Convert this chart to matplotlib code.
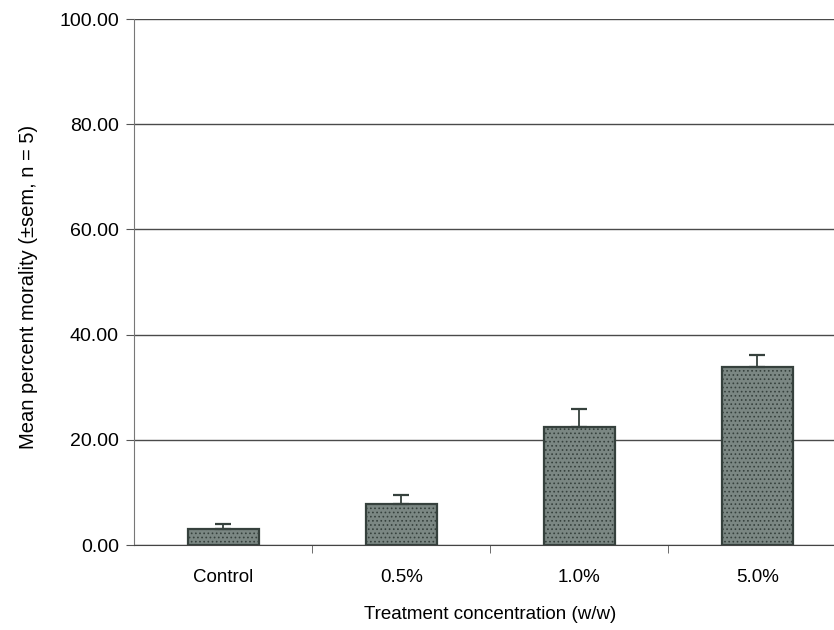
import matplotlib.pyplot as plt
from matplotlib.ticker import FixedLocator, FormatStrFormatter

categories = ["Control", "0.5%", "1.0%", "5.0%"]
mean_mortality = [3.1, 7.8, 22.5, 33.8]
sem_upper = [0.8, 1.7, 3.4, 2.4]

plt.rcParams["font.family"] = ["Liberation Sans", "DejaVu Sans"]
plt.rcParams["hatch.color"] = "#46524d"
plt.rcParams["hatch.linewidth"] = 0.7

fig = plt.figure(figsize=(8.34, 6.3), dpi=100)
ax = fig.add_axes([0.161, 85 / 630, 712 / 834, 526 / 630])

x = list(range(len(categories)))
ax.set_axisbelow(True)
ax.yaxis.grid(True, color="#4a4a4a", linewidth=1.0)
ax.bar(x, mean_mortality, width=0.4, color="#7b8783", edgecolor="#36413d",
       linewidth=1.6, hatch="....", zorder=2)
ax.errorbar(x, mean_mortality, yerr=[[0] * len(x), sem_upper], fmt="none",
            ecolor="#36413d", elinewidth=1.3, capsize=6, capthick=1.6, zorder=3)

ax.set_xlim(-0.5, 3.5)
ax.set_ylim(0, 100)
ax.set_yticks([0, 20, 40, 60, 80, 100])
ax.yaxis.set_major_formatter(FormatStrFormatter("%.2f"))
ax.set_xticks(x)
ax.set_xticklabels(categories)
ax.xaxis.set_minor_locator(FixedLocator([0.5, 1.5, 2.5]))
ax.tick_params(axis="x", which="major", length=0, pad=17, labelsize=13.5)
ax.tick_params(axis="x", which="minor", length=6, color="#555555")
ax.tick_params(axis="y", length=6, color="#555555", labelsize=14, pad=5)

for side in ("top", "right"):
    ax.spines[side].set_visible(False)
ax.spines["left"].set_color("#777777")
ax.spines["bottom"].set_color("#444444")

ax.set_xlabel("Treatment concentration (w/w)", fontsize=13.5, labelpad=15)
ax.set_ylabel("Mean percent morality (\u00b1sem, n = 5)", fontsize=14.5)
ax.yaxis.set_label_coords(-0.135, 0.49)

fig.savefig("out.png", dpi=100)
